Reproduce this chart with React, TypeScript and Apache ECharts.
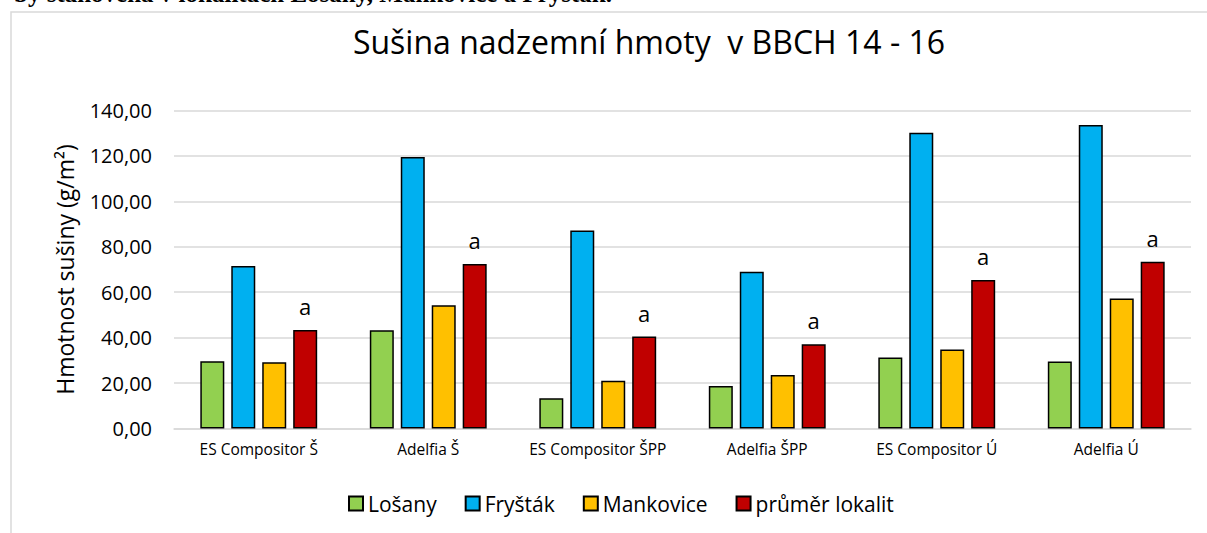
import React, { useEffect, useRef } from "react";
import * as echarts from "echarts";

const categories = [
  "ES Compositor Š",
  "Adelfia Š",
  "ES Compositor ŠPP",
  "Adelfia ŠPP",
  "ES Compositor Ú",
  "Adelfia Ú",
];
const losany = [29.6, 43.3, 13.3, 18.7, 31.3, 29.5];
const frystak = [71.5, 119.5, 87.2, 69.0, 130.2, 133.6];
const mankovice = [29.2, 54.3, 21.0, 23.6, 34.8, 57.2];
const prumer = [43.4, 72.4, 40.5, 37.1, 65.4, 73.4];
const prumerLabels = ["a", "a", "a", "a", "a", "a"];
const yTicks = { min: 0, max: 140, interval: 20 };

const FONT = "'Open Sans', sans-serif";

export default function App() {
  const ref = useRef<HTMLDivElement>(null);
  useEffect(() => {
    if (!ref.current) return;
    const chart = echarts.init(ref.current, undefined, { renderer: "svg" });
    const mk = (name: string, data: number[], color: string, labels?: string[]) => ({
      name,
      type: "bar",
      data,
      barWidth: 24,
      barGap: "29%",
      itemStyle: { color, borderColor: "#000", borderWidth: 1.5 },
      label: labels
        ? {
            show: true,
            position: "top",
            distance: 13,
            formatter: (p: any) => labels[p.dataIndex],
            fontFamily: FONT,
            fontSize: 22,
            color: "#000",
          }
        : { show: false },
    });
    chart.setOption({
      animation: false,
      backgroundColor: "#fff",
      title: {
        text: "Sušina nadzemní hmoty  v BBCH 14 - 16",
        left: 644,
        textAlign: "center",
        top: 20,
        textStyle: { fontFamily: FONT, fontSize: 32, fontWeight: "normal", color: "#000" },
      },
      graphic: [
        {
          type: "rect",
          shape: { x: 11, y: 12, width: 1400, height: 700 },
          style: { fill: "none", stroke: "#d9d9d9", lineWidth: 1.5 },
          silent: true,
        },
        {
          type: "text",
          x: 14,
          y: 6,
          style: {
            text: "by stanovena v lokalitách Lošany, Mankovice a Fryšták.",
            fontFamily: "'Liberation Serif', serif",
            fontWeight: "bold",
            fontSize: 25,
            verticalAlign: "bottom",
            fill: "#000",
          },
        },
      ],
      legend: {
        bottom: 14,
        left: 343,
        itemWidth: 14,
        itemHeight: 14,
        itemGap: 28,
        icon: "rect",
        textStyle: { fontFamily: FONT, fontSize: 21, color: "#000" },
        data: ["Lošany", "Fryšták", "Mankovice", "průměr lokalit"],
      },
      grid: { left: 174, right: 16, top: 110.5, bottom: 104.5, containLabel: false },
      xAxis: {
        type: "category",
        data: categories,
        axisLine: { lineStyle: { color: "#d9d9d9", width: 1.5 } },
        axisTick: { show: false },
        axisLabel: { fontFamily: FONT, fontSize: 15.5, color: "#000", margin: 12, interval: 0 },
      },
      yAxis: {
        type: "value",
        min: yTicks.min,
        max: yTicks.max,
        interval: yTicks.interval,
        name: "Hmotnost sušiny (g/m²)",
        nameLocation: "middle",
        nameGap: 98,
        nameTextStyle: { fontFamily: FONT, fontSize: 23, color: "#000" },
        axisLine: { show: false },
        axisTick: { show: false },
        splitLine: { lineStyle: { color: "#d9d9d9", width: 1.5 } },
        axisLabel: {
          fontFamily: FONT,
          fontSize: 20,
          color: "#000",
          margin: 22,
          formatter: (v: number) => v.toFixed(2).replace(".", ","),
        },
      },
      series: [
        mk("Lošany", losany, "#92D050"),
        mk("Fryšták", frystak, "#00B0F0"),
        mk("Mankovice", mankovice, "#FFC000"),
        mk("průměr lokalit", prumer, "#C00000", prumerLabels),
      ],
    });
    return () => chart.dispose();
  }, []);
  return (
    <div
      ref={ref}
      style={{ position: "fixed", left: 0, top: 0, width: 1207, height: 533 }}
    />
  );
}
